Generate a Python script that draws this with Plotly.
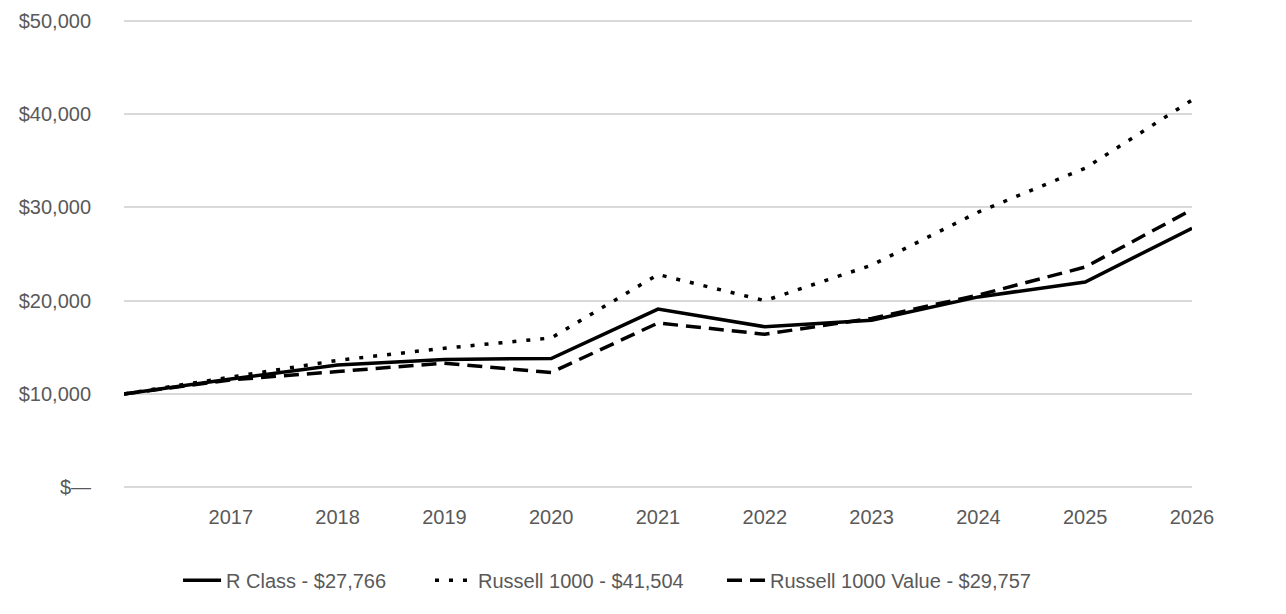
import plotly.graph_objects as go

years = [2016, 2017, 2018, 2019, 2020, 2021, 2022, 2023, 2024, 2025, 2026]
tick_years = [2017, 2018, 2019, 2020, 2021, 2022, 2023, 2024, 2025, 2026]

r_class = [10000, 11600, 13100, 13700, 13800, 19100, 17200, 17900, 20400, 22000, 27766]
russell_1000 = [10000, 11800, 13600, 14900, 16000, 22800, 20000, 23800, 29500, 34200, 41504]
russell_1000_value = [10000, 11500, 12400, 13300, 12300, 17600, 16400, 18100, 20600, 23600, 29757]

y_ticks = [0, 10000, 20000, 30000, 40000, 50000]
y_tick_labels = ["$\u2014", "$10,000", "$20,000", "$30,000", "$40,000", "$50,000"]

FONT = "Liberation Sans, Arial, sans-serif"
TEXT_GREY = '#595959'

fig = go.Figure()
# each series gets its own legend box so the spacing matches the original
fig.add_trace(go.Scatter(
    x=years, y=r_class, mode='lines', name='R Class - $27,766',
    line=dict(color='#000000', width=3.5), legend='legend'
))
fig.add_trace(go.Scatter(
    x=years, y=russell_1000, mode='lines', name='Russell 1000 - $41,504',
    line=dict(color='#000000', width=3.5, dash='4px,10px'), legend='legend2'
))
fig.add_trace(go.Scatter(
    x=years, y=russell_1000_value, mode='lines', name='Russell 1000 Value - $29,757',
    line=dict(color='#000000', width=3.5, dash='15px,8px'), legend='legend3'
))

legend_base = dict(orientation='h', xanchor='left', y=-0.15, yanchor='top',
                   font=dict(family=FONT, size=20, color=TEXT_GREY), itemwidth=38,
                   bgcolor='rgba(0,0,0,0)')

fig.update_layout(
    width=1270, height=598,
    paper_bgcolor='white', plot_bgcolor='white',
    font=dict(family=FONT, size=20, color=TEXT_GREY),
    # range padded a little so the $0 and $50,000 gridlines get drawn
    margin=dict(l=116, r=86, t=10, b=116, autoexpand=False),
    showlegend=True,
    legend=dict(legend_base, x=0.0506),
    legend2=dict(legend_base, x=0.2865),
    legend3=dict(legend_base, x=0.5599),
    xaxis=dict(range=[2016, 2026], tickvals=tick_years, ticktext=[str(y) for y in tick_years],
               showgrid=False, zeroline=False, showline=False, ticks='', ticklabelstandoff=13,
               automargin=False),
    yaxis=dict(range=[-300, 50300], tickvals=y_ticks, ticktext=y_tick_labels,
               showgrid=True, gridcolor='#d9d9d9', gridwidth=1.5, zeroline=False,
               showline=False, ticks='', ticklabelstandoff=32, automargin=False),
)

fig.write_html("out.html")
